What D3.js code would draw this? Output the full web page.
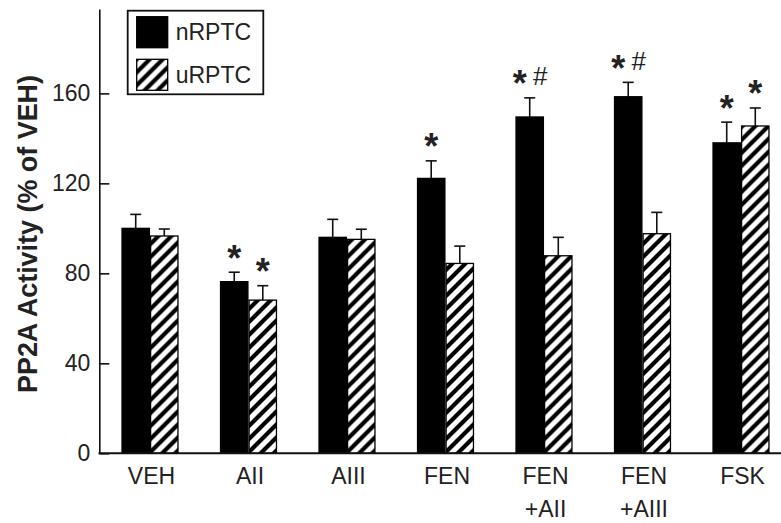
<!DOCTYPE html>
<html>
<head>
<meta charset="utf-8">
<script src="https://cdn.jsdelivr.net/npm/d3@7"></script>
<style>
  html, body { margin: 0; padding: 0; background: #fff; }
  svg { display: block; font-family: "Liberation Sans", Arial, sans-serif; }
</style>
</head>
<body>
<svg id="chart" width="781" height="523"></svg>
<script>
// ---- data ----
const categories = ["VEH", "AII", "AIII", "FEN", "FEN+AII", "FEN+AIII", "FSK"];
const categoryLines = [["VEH"], ["AII"], ["AIII"], ["FEN"], ["FEN", "+AII"], ["FEN", "+AIII"], ["FSK"]];
const seriesNames = ["nRPTC", "uRPTC"];
const nRPTC = [100, 76.3, 96, 122.2, 149.5, 158.5, 138];
const nRPTCErr = [6.2, 4.2, 8, 7.8, 8.5, 6.4, 9.2];
const uRPTC = [96.6, 68.1, 95.1, 84.4, 87.8, 97.6, 145.5];
const uRPTCErr = [3.1, 6.4, 4.5, 7.7, 8.2, 9.5, 8];
const nMarks = ["", "*", "", "*", "*#", "*#", "*"];
const uMarks = ["", "*", "", "", "", "", "*"];
const yTicks = [0, 40, 80, 120, 160];
const yTitle = "PP2A Activity (% of VEH)";

// ---- layout ----
const svg = d3.select("#chart");
const W = 781;
const defs = svg.append("defs");
const pat = defs.append("pattern")
  .attr("id", "hatch").attr("patternUnits", "userSpaceOnUse")
  .attr("width", 13).attr("height", 13);
pat.append("rect").attr("width", 13).attr("height", 13).attr("fill", "#fff");
pat.append("path")
  .attr("d", "M-3,3 L3,-3 M0,13 L13,0 M10,16 L16,10")
  .attr("stroke", "#000").attr("stroke-width", 4.2);

const y = d3.scaleLinear().domain([0, 197.5]).range([453.3, 9]);
const x = d3.scaleBand().domain(categories).range([100.75, 790.25])
  .paddingInner(0.42).paddingOuter(0.21);
const x1 = d3.scaleBand().domain(seriesNames).range([0, x.bandwidth()]);
const axisX = 99.3;

const rows = categories.map((c, i) => ({
  cat: c,
  vals: [
    { s: "nRPTC", v: nRPTC[i], e: nRPTCErr[i], mark: nMarks[i] },
    { s: "uRPTC", v: uRPTC[i], e: uRPTCErr[i], mark: uMarks[i] }
  ]
}));

// bars
const g = svg.append("g");
const groups = g.selectAll("g.grp").data(rows).join("g")
  .attr("class", "grp")
  .attr("transform", d => `translate(${x(d.cat)},0)`);

// error bars (drawn first, behind bars)
groups.selectAll("g.err").data(d => d.vals).join("g").attr("class", "err")
  .each(function (d) {
    const cx = x1(d.s) + x1.bandwidth() / 2;
    const sel = d3.select(this);
    sel.append("line").attr("x1", cx).attr("x2", cx)
      .attr("y1", y(d.v)).attr("y2", y(d.v + d.e))
      .attr("stroke", "#111").attr("stroke-width", 1.6);
    sel.append("line").attr("x1", cx - 5.5).attr("x2", cx + 5.5)
      .attr("y1", y(d.v + d.e)).attr("y2", y(d.v + d.e))
      .attr("stroke", "#111").attr("stroke-width", 1.6);
  });

groups.selectAll("rect.bar").data(d => d.vals).join("rect").attr("class", "bar")
  .attr("x", d => x1(d.s) + 0.6)
  .attr("width", x1.bandwidth() - 1.2)
  .attr("y", d => y(d.v))
  .attr("height", d => y(0) - y(d.v))
  .attr("fill", d => d.s === "nRPTC" ? "#000" : "url(#hatch)")
  .attr("stroke", "#000").attr("stroke-width", 1.3);

// significance marks
groups.selectAll("g.mark").data(d => d.vals.filter(v => v.mark)).join("g").attr("class", "mark")
  .each(function (d) {
    const cx = x1(d.s) + x1.bandwidth() / 2;
    const top = y(d.v + d.e);
    const sel = d3.select(this);
    const hasHash = d.mark.includes("#");
    sel.append("text").text("*")
      .attr("x", hasHash ? cx - 10 : cx).attr("y", top - 1.5)
      .attr("text-anchor", "middle").attr("font-weight", "bold")
      .attr("font-size", 36).attr("fill", "#222");
    if (hasHash) {
      sel.append("text").text("#")
        .attr("x", cx + 10.5).attr("y", top - 12.5)
        .attr("text-anchor", "middle")
        .attr("font-size", 26).attr("fill", "#222");
    }
  });

// y axis
const yAxis = svg.append("g").attr("transform", `translate(${axisX},0)`)
  .call(d3.axisLeft(y).tickValues(yTicks).tickSizeInner(-10).tickSizeOuter(0).tickPadding(9));
yAxis.select(".domain").attr("stroke", "#111").attr("stroke-width", 1.6);
yAxis.selectAll(".tick line").attr("stroke", "#111").attr("stroke-width", 1.6);
yAxis.selectAll(".tick text").attr("font-size", 23).attr("fill", "#222")
  .attr("font-family", "Liberation Sans, Arial, sans-serif");

// x axis
const xAxis = svg.append("g").attr("transform", `translate(0,${y(0)})`)
  .call(d3.axisBottom(x).tickSize(0).tickFormat(() => ""));
xAxis.select(".domain").remove();
xAxis.append("line").attr("x1", axisX - 0.8).attr("x2", W).attr("y1", 0).attr("y2", 0)
  .attr("stroke", "#111").attr("stroke-width", 2);
xAxis.selectAll(".tick").each(function (d) {
  const i = categories.indexOf(d);
  const t = d3.select(this).append("text")
    .attr("text-anchor", "middle").attr("font-size", 23).attr("fill", "#222")
    .attr("font-family", "Liberation Sans, Arial, sans-serif");
  categoryLines[i].forEach((ln, k) => {
    t.append("tspan").attr("x", 1.5).attr("y", 31 + k * 32.5).text(ln);
  });
});

// y title
svg.append("text")
  .attr("transform", `translate(37,${(75 + 393) / 2}) rotate(-90)`)
  .attr("text-anchor", "middle").attr("font-weight", "bold")
  .attr("font-size", 28).attr("fill", "#222")
  .attr("textLength", 318).attr("lengthAdjust", "spacingAndGlyphs")
  .text(yTitle);

// legend
const lg = svg.append("g");
lg.append("rect").attr("x", 127.7).attr("y", 10.7).attr("width", 135.6).attr("height", 83.6)
  .attr("fill", "#fff").attr("stroke", "#111").attr("stroke-width", 1.8);
const legendItems = lg.selectAll("g.li").data(seriesNames).join("g").attr("class", "li")
  .attr("transform", (d, i) => `translate(136.7,${16.7 + i * 42.6})`);
legendItems.append("rect").attr("width", 31).attr("height", 31)
  .attr("fill", d => d === "nRPTC" ? "#000" : "url(#hatch)")
  .attr("stroke", "#000").attr("stroke-width", 1.3);
legendItems.append("text").attr("x", 39).attr("y", 23.5)
  .attr("font-size", 23).attr("fill", "#222").text(d => d);
</script>
</body>
</html>
